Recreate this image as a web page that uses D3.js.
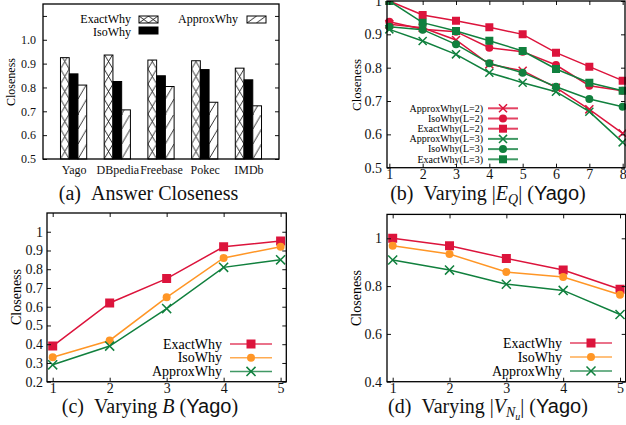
<!DOCTYPE html>
<html>
<head>
<meta charset="utf-8">
<script src="https://cdn.jsdelivr.net/npm/d3@7"></script>
<style>
  body { margin: 0; background: #fff; }
  svg { display: block; }
</style>
</head>
<body>
<script>
const width = 626;
const height = 425;

// ---- (a) answer closeness ----
const datasets = ['Yago', 'DBpedia', 'Freebase', 'Pokec', 'IMDb'];
const barSeries = ['ExactWhy', 'IsoWhy', 'ApproxWhy'];
const exactA = [0.925, 0.936, 0.915, 0.912, 0.881];
const isoA = [0.857, 0.825, 0.849, 0.875, 0.832];
const approxA = [0.81, 0.706, 0.804, 0.738, 0.723];

// ---- (b) varying |E_Q| ----
const eqSizes = [1, 2, 3, 4, 5, 6, 7, 8];
const approxL2 = [0.93, 0.92, 0.883, 0.81, 0.791, 0.74, 0.675, 0.603];
const isoL2 = [0.938, 0.915, 0.908, 0.86, 0.848, 0.808, 0.746, 0.731];
const exactL2 = [1.0, 0.958, 0.941, 0.921, 0.9, 0.845, 0.803, 0.761];
const approxL3 = [0.915, 0.88, 0.84, 0.785, 0.755, 0.728, 0.668, 0.576];
const isoL3 = [0.923, 0.914, 0.87, 0.813, 0.785, 0.743, 0.706, 0.683];
const exactL3 = [1.0, 0.935, 0.91, 0.881, 0.85, 0.796, 0.755, 0.731];

// ---- (c) varying B ----
const budgets = [1, 2, 3, 4, 5];
const exactB = [0.39, 0.62, 0.75, 0.92, 0.95];
const isoB = [0.33, 0.42, 0.65, 0.86, 0.92];
const approxB = [0.29, 0.39, 0.59, 0.81, 0.85];

// ---- (d) varying |V_Nu| ----
const nuSizes = [1, 2, 3, 4, 5];
const exactV = [1.0, 0.969, 0.916, 0.867, 0.787];
const isoV = [0.969, 0.934, 0.859, 0.838, 0.764];
const approxV = [0.909, 0.867, 0.808, 0.782, 0.681];

const serif = "'Liberation Serif', 'DejaVu Serif', serif";
const sans = "'Liberation Sans', 'DejaVu Sans', sans-serif";
const red = '#dc143c';
const orange = '#ff9626';
const green = '#11803e';

const svg = d3.select('body').append('svg')
  .attr('width', width)
  .attr('height', height)
  .style('font-family', serif);
const defs = svg.append('defs');

const symbolOf = {times: d3.symbolTimes, circle: d3.symbolCircle, square: d3.symbolSquare};

const addMarker = (g, shape, color, size, cx, cy) => {
  const p = g.append('path')
    .attr('d', d3.symbol(symbolOf[shape], size)())
    .attr('transform', `translate(${cx},${cy})`);
  if (shape === 'times') {
    p.attr('fill', 'none').attr('stroke', color).attr('stroke-width', 1.5);
  } else {
    p.attr('fill', color);
  }
};

// frame, inward ticks on all four sides, tick labels on left/bottom
const drawAxes = (g, x, y, o) => {
  const [x0, x1] = x.range();
  const [y0, y1] = y.range();
  const left = g.append('g').attr('transform', `translate(${x0},0)`)
    .call(d3.axisLeft(y).tickValues(o.yTicks).tickFormat(o.yFmt).tickSize(-4).tickPadding(o.yPad));
  const right = g.append('g').attr('transform', `translate(${x1},0)`)
    .call(d3.axisRight(y).tickValues(o.yTicks).tickFormat('').tickSize(-4));
  [left, right].forEach(a => {
    a.select('.domain').remove();
    a.selectAll('text').attr('font-family', serif).attr('font-size', o.fs).attr('fill', '#111');
    a.selectAll('line').attr('stroke', '#111');
  });
  if (o.xTicks) {
    const bottom = g.append('g').attr('transform', `translate(0,${y0})`)
      .call(d3.axisBottom(x).tickValues(o.xTicks).tickFormat(d3.format('d')).tickSize(-4).tickPadding(1.5));
    const top = g.append('g').attr('transform', `translate(0,${y1})`)
      .call(d3.axisTop(x).tickValues(o.xTicks).tickFormat('').tickSize(-4));
    [bottom, top].forEach(a => {
      a.select('.domain').remove();
      a.selectAll('text').attr('font-family', serif).attr('font-size', o.fs).attr('fill', '#111');
      a.selectAll('line').attr('stroke', '#111');
    });
  }
  g.append('rect')
    .attr('x', x0).attr('y', y1)
    .attr('width', x1 - x0).attr('height', y0 - y1)
    .attr('fill', 'none').attr('stroke', '#000').attr('stroke-width', 1.3);
  g.append('text')
    .attr('transform', `translate(${o.labX},${o.labY}) rotate(-90)`)
    .attr('text-anchor', 'middle')
    .attr('font-size', o.labFs)
    .text('Closeness');
};

// ======================= (a) =======================
{
  const g = svg.append('g');
  const x = d3.scaleLinear().domain([-0.7, 4.7]).range([43, 279]);
  const y = d3.scaleLinear().domain([0.5, 1.15]).range([159, 4]);
  const bw = x(0.2) - x(0);
  const values = [exactA, isoA, approxA];
  const bars = [];
  values.forEach((vals, s) => vals.forEach((v, i) => bars.push({s, i, v})));

  const patternFor = (id, px, py, w, h, s) => {
    const p = defs.append('pattern').attr('id', id)
      .attr('patternUnits', 'userSpaceOnUse')
      .attr('x', px).attr('y', py).attr('width', w).attr('height', h);
    p.append('rect').attr('width', w).attr('height', h).attr('fill', '#fff');
    const d = s === 0 ? `M0,0L${w},${h}M${w},0L0,${h}` : `M0,${h}L${w},0`;
    p.append('path').attr('d', d).attr('stroke', '#000').attr('stroke-width', 0.8).attr('fill', 'none');
  };

  bars.forEach(b => {
    b.x = x(b.i + (b.s - 1) * 0.2) - bw / 2;
    if (b.s !== 1) patternFor(`pa${b.s}_${b.i}`, b.x, y(0.5), bw, 15, b.s);
  });

  g.selectAll('rect.bar').data(bars).join('rect')
    .attr('class', 'bar')
    .attr('x', d => d.x)
    .attr('y', d => y(d.v))
    .attr('width', bw)
    .attr('height', d => y(0.5) - y(d.v))
    .attr('fill', d => d.s === 1 ? '#000' : `url(#pa${d.s}_${d.i})`)
    .attr('stroke', '#000')
    .attr('stroke-width', 1);

  drawAxes(g, x, y, {
    yTicks: [0.5, 0.6, 0.7, 0.8, 0.9, 1.0, 1.1], yFmt: v => v > 1.05 ? '' : d3.format('.1f')(v),
    yPad: 7, fs: 12, labX: 15, labY: 82, labFs: 12
  });

  g.append('g').attr('transform', `translate(0,${y(0.5)})`)
    .call(d3.axisBottom(x).tickValues(d3.range(datasets.length)).tickFormat(i => datasets[i]).tickSize(0).tickPadding(6.5))
    .call(a => a.select('.domain').remove())
    .selectAll('text').attr('font-family', serif).attr('font-size', 12).attr('fill', '#111');

  // legend
  const leg = [
    {s: 0, tx: 131, ty: 23, bx: 139, by: 16},
    {s: 1, tx: 131, ty: 36, bx: 139, by: 27},
    {s: 2, tx: 238, ty: 23, bx: 247, by: 16}
  ];
  leg.forEach(l => {
    g.append('text').attr('x', l.tx).attr('y', l.ty).attr('text-anchor', 'end')
      .attr('font-size', 12).text(barSeries[l.s]);
    if (l.s !== 1) patternFor(`pl${l.s}`, l.bx, l.by, 9.5, 7, l.s);
    g.append('rect').attr('x', l.bx).attr('y', l.by).attr('width', 19).attr('height', 7)
      .attr('fill', l.s === 1 ? '#000' : `url(#pl${l.s})`)
      .attr('stroke', '#000').attr('stroke-width', 1);
  });
}

// ==================== line panels ====================
const linePanel = o => {
  const g = svg.append('g');
  const x = d3.scaleLinear().domain(o.xDomain).range(o.xRange);
  const y = d3.scaleLinear().domain(o.yDomain).range(o.yRange);
  const clipId = 'clip' + o.id;
  defs.append('clipPath').attr('id', clipId).append('rect')
    .attr('x', o.xRange[0] - 6).attr('y', o.yRange[1])
    .attr('width', o.xRange[1] - o.xRange[0] + 12).attr('height', o.yRange[0] - o.yRange[1]);
  const plot = g.append('g').attr('clip-path', `url(#${clipId})`);
  const line = d3.line().x((d, i) => x(o.xs[i])).y(d => y(d));

  drawAxes(g, x, y, {
    xTicks: o.xs, yTicks: o.yTicks, yFmt: o.yFmt, yPad: o.yPad,
    fs: 14, labX: o.labX, labY: o.labY, labFs: o.labFs
  });

  o.series.forEach(s => {
    plot.append('path').datum(s.values)
      .attr('d', line).attr('fill', 'none')
      .attr('stroke', s.color).attr('stroke-width', 1.5);
    s.values.forEach((v, i) => addMarker(plot, s.shape, s.color, o.msize[s.shape], x(o.xs[i]), y(v)));
  });

  // legend
  o.series.forEach((s, k) => {
    const ly = o.leg.y0 + k * o.leg.dy;
    g.append('text').attr('x', o.leg.tx).attr('y', ly + o.leg.fs * 0.33)
      .attr('text-anchor', 'end').attr('font-size', o.leg.fs).text(s.name);
    g.append('line').attr('x1', o.leg.l0).attr('x2', o.leg.l1).attr('y1', ly).attr('y2', ly)
      .attr('stroke', s.color).attr('stroke-width', o.leg.lw).attr('stroke-opacity', 0.8);
    addMarker(g, s.shape, s.color, o.msize[s.shape], (o.leg.l0 + o.leg.l1) / 2, ly);
  });
  return g;
};

// (b)
linePanel({
  id: 'b', xs: eqSizes, xDomain: [0.93, 8.07], xRange: [387, 625],
  yDomain: [0.5, 1.0], yRange: [167.7, 1],
  yTicks: [0.5, 0.6, 0.7, 0.8, 0.9, 1.0], yFmt: d3.format('~g'), yPad: 5,
  labX: 361, labY: 85, labFs: 13,
  msize: {times: 44, circle: 50, square: 64},
  series: [
    {name: 'ApproxWhy(L=2)', values: approxL2, color: red, shape: 'times'},
    {name: 'IsoWhy(L=2)', values: isoL2, color: red, shape: 'circle'},
    {name: 'ExactWhy(L=2)', values: exactL2, color: red, shape: 'square'},
    {name: 'ApproxWhy(L=3)', values: approxL3, color: green, shape: 'times'},
    {name: 'IsoWhy(L=3)', values: isoL3, color: green, shape: 'circle'},
    {name: 'ExactWhy(L=3)', values: exactL3, color: green, shape: 'square'}
  ],
  leg: {tx: 483, l0: 488, l1: 518, y0: 108.3, dy: 10.2, fs: 10, lw: 2}
});

// (c)
linePanel({
  id: 'c', xs: budgets, xDomain: [0.9, 5.1], xRange: [47, 286.3],
  yDomain: [0.2, 1.1], yRange: [381.7, 213],
  yTicks: [0.2, 0.3, 0.4, 0.5, 0.6, 0.7, 0.8, 0.9, 1.0], yFmt: d3.format('~g'), yPad: 4,
  labX: 21, labY: 297, labFs: 14,
  msize: {times: 55, circle: 50, square: 81},
  series: [
    {name: 'ExactWhy', values: exactB, color: red, shape: 'square'},
    {name: 'IsoWhy', values: isoB, color: orange, shape: 'circle'},
    {name: 'ApproxWhy', values: approxB, color: green, shape: 'times'}
  ],
  leg: {tx: 222, l0: 230, l1: 272, y0: 344, dy: 13.7, fs: 14, lw: 1.5}
});

// (d)
linePanel({
  id: 'd', xs: nuSizes, xDomain: [0.9, 5.1], xRange: [387, 625.7],
  yDomain: [0.4, 1.1], yRange: [381.7, 214.4],
  yTicks: [0.4, 0.6, 0.8, 1.0], yFmt: d3.format('~g'), yPad: 5,
  labX: 361, labY: 298, labFs: 14,
  msize: {times: 55, circle: 50, square: 81},
  series: [
    {name: 'ExactWhy', values: exactV, color: red, shape: 'square'},
    {name: 'IsoWhy', values: isoV, color: orange, shape: 'circle'},
    {name: 'ApproxWhy', values: approxV, color: green, shape: 'times'}
  ],
  leg: {tx: 562, l0: 570, l1: 612, y0: 343, dy: 14, fs: 14, lw: 1.5}
});

// ==================== captions ====================
const caption = (cx, cy, parts) => {
  const t = svg.append('text').attr('x', cx).attr('y', cy)
    .attr('text-anchor', 'middle').attr('font-size', 20).attr('fill', '#111');
  parts.forEach(p => {
    const s = t.append('tspan').text(p.t);
    if (p.it) s.attr('font-style', 'italic');
    if (p.sans) s.attr('font-family', sans).attr('font-size', 20);
    if (p.fs) s.attr('font-size', p.fs);
    if (p.dy) s.attr('dy', p.dy);
  });
};

caption(148.5, 200, [{t: '(a)\u00a0\u00a0Answer Closeness'}]);
caption(488, 200, [
  {t: '(b)\u00a0\u00a0Varying |'}, {t: 'E', it: true}, {t: 'Q', it: true, fs: 14, dy: 4},
  {t: '|\u00a0(', dy: -4}, {t: 'Yago', sans: true}, {t: ')'}
]);
caption(150, 413, [
  {t: '(c)\u00a0\u00a0Varying '}, {t: 'B', it: true}, {t: '\u00a0('}, {t: 'Yago', sans: true}, {t: ')'}
]);
caption(488, 413, [
  {t: '(d)\u00a0\u00a0Varying |'}, {t: 'V', it: true}, {t: 'N', it: true, fs: 14, dy: 4},
  {t: 'u', it: true, fs: 10, dy: 3}, {t: '|\u00a0(', dy: -7}, {t: 'Yago', sans: true}, {t: ')'}
]);
</script>
</body>
</html>
